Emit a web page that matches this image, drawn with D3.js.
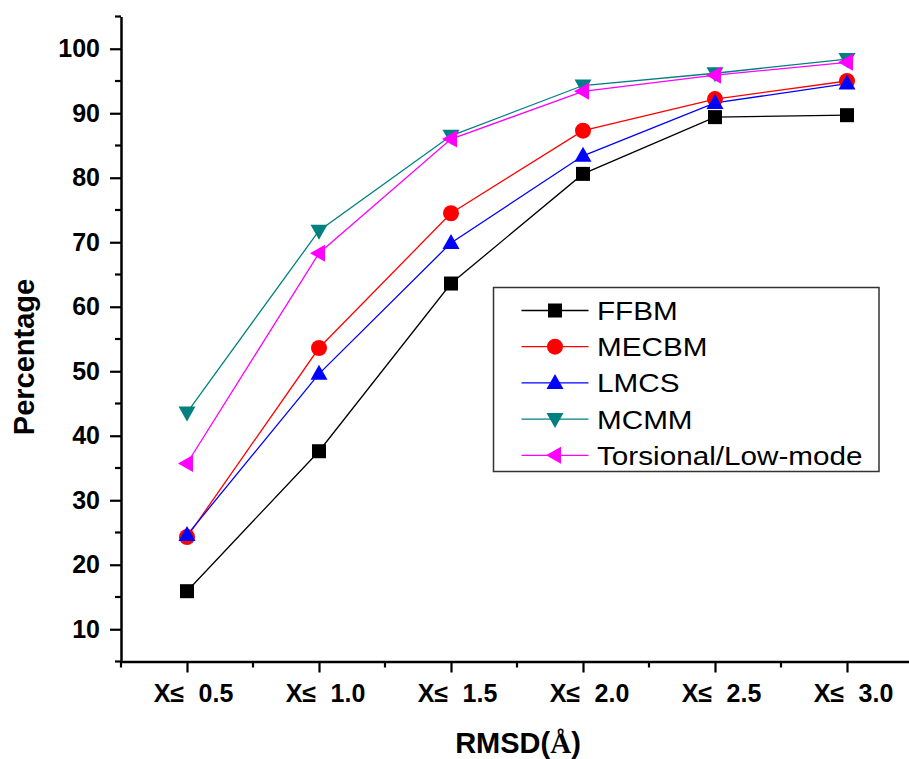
<!DOCTYPE html>
<html>
<head>
<meta charset="utf-8">
<script src="https://cdn.jsdelivr.net/npm/d3@7"></script>
<style>
  html, body { margin: 0; padding: 0; background: #fff; }
  svg { display: block; }
</style>
</head>
<body>
<svg id="chart" width="909" height="759"></svg>
<script>
// ---- data ----
const xValues = [0.5, 1.0, 1.5, 2.0, 2.5, 3.0];
const xTickLabels = ["X≤\u2002\u200a0.5", "X≤\u2002\u200a1.0", "X≤\u2002\u200a1.5", "X≤\u2002\u200a2.0", "X≤\u2002\u200a2.5", "X≤\u2002\u200a3.0"];
const seriesNames = ["FFBM", "MECBM", "LMCS", "MCMM", "Torsional/Low-mode"];
const ffbm      = [15.9, 37.6, 63.6, 80.6, 89.4, 89.7];
const mecbm     = [24.3, 53.6, 74.5, 87.3, 92.2, 95.0];
const lmcs      = [24.6, 49.6, 69.9, 83.4, 91.6, 94.6];
const mcmm      = [43.6, 71.8, 86.5, 94.3, 96.2, 98.4];
const torsional = [35.7, 68.3, 86.0, 93.4, 95.9, 97.9];
const yTicks = [10, 20, 30, 40, 50, 60, 70, 80, 90, 100];

const seriesValues = [ffbm, mecbm, lmcs, mcmm, torsional];
const colors = ["#000000", "#ff0000", "#0000ff", "#008080", "#ff00ff"];
const symbols = ["square", "circle", "triUp", "triDown", "triLeft"];

const svg = d3.select("#chart");
const x = d3.scaleLinear().domain([0.25, 3.25]).range([121, 913]);
const y = d3.scaleLinear().domain([5, 105]).range([661.5, 16.5]);

// ---- axes ----
const yMinor = d3.range(5, 106, 5).filter(v => v % 10 !== 0);
const xMinor = d3.range(0.25, 3.26, 0.5);

const yAxisG = svg.append("g").attr("transform", `translate(${x(0.25)},0)`);
yAxisG.call(d3.axisLeft(y).tickValues(yTicks).tickSize(11).tickPadding(10).tickSizeOuter(0).tickFormat(d3.format("d")));
yAxisG.selectAll("text").attr("font-family", "Liberation Sans, Arial, sans-serif").attr("font-weight", "bold").attr("font-size", 25).attr("fill", "#000");
yAxisG.selectAll("line").attr("stroke", "#000").attr("stroke-width", 2.2);
yAxisG.select(".domain").attr("stroke", "#000").attr("stroke-width", 2.5);
yAxisG.append("g").selectAll("line").data(yMinor).join("line")
  .attr("x1", -6).attr("x2", 0).attr("y1", d => y(d)).attr("y2", d => y(d))
  .attr("stroke", "#000").attr("stroke-width", 2.2);

const xAxisG = svg.append("g").attr("transform", `translate(0,${y(5)})`);
xAxisG.call(d3.axisBottom(x).tickValues(xValues).tickSize(11).tickPadding(12).tickSizeOuter(0)
  .tickFormat((d, i) => xTickLabels[i]));
xAxisG.selectAll("text").attr("font-family", "Liberation Sans, Arial, sans-serif").attr("font-weight", "bold").attr("font-size", 25).attr("fill", "#000").attr("dx", 6);
xAxisG.selectAll("line").attr("stroke", "#000").attr("stroke-width", 2.2);
xAxisG.select(".domain").attr("stroke", "#000").attr("stroke-width", 2.5);
xAxisG.append("g").selectAll("line").data(xMinor).join("line")
  .attr("x1", d => x(d)).attr("x2", d => x(d)).attr("y1", 0).attr("y2", 6)
  .attr("stroke", "#000").attr("stroke-width", 2.2);

// ---- axis titles ----
svg.append("text")
  .attr("transform", "translate(33.5,357) rotate(-90)")
  .attr("text-anchor", "middle")
  .attr("font-family", "Liberation Sans, Arial, sans-serif")
  .attr("font-weight", "bold").attr("font-size", 29)
  .text("Percentage");

const xt = svg.append("text")
  .attr("x", 518).attr("y", 753)
  .attr("text-anchor", "middle")
  .attr("font-family", "Liberation Sans, Arial, sans-serif")
  .attr("font-weight", "bold").attr("font-size", 29);
xt.append("tspan").text("RMSD(");
xt.append("tspan").attr("font-family", "Liberation Serif, Times New Roman, serif").text("Å");
xt.append("tspan").text(")");

// ---- markers ----
function drawMarker(g, type, cx, cy, color) {
  if (type === "square") {
    g.append("rect").attr("x", cx - 7).attr("y", cy - 7).attr("width", 14).attr("height", 14).attr("fill", color);
  } else if (type === "circle") {
    g.append("circle").attr("cx", cx).attr("cy", cy).attr("r", 8).attr("fill", color);
  } else if (type === "triUp") {
    g.append("path").attr("d", `M${cx},${cy - 9}L${cx + 8.5},${cy + 6}L${cx - 8.5},${cy + 6}Z`).attr("fill", color);
  } else if (type === "triDown") {
    g.append("path").attr("d", `M${cx},${cy + 9}L${cx + 8.5},${cy - 6}L${cx - 8.5},${cy - 6}Z`).attr("fill", color);
  } else if (type === "triLeft") {
    g.append("path").attr("d", `M${cx - 9},${cy}L${cx + 6},${cy - 8.5}L${cx + 6},${cy + 8.5}Z`).attr("fill", color);
  }
}

const line = d3.line().x((d, i) => x(xValues[i])).y(d => y(d));
seriesValues.forEach((vals, si) => {
  svg.append("path").attr("d", line(vals)).attr("fill", "none").attr("stroke", colors[si]).attr("stroke-width", 1.3);
});
seriesValues.forEach((vals, si) => {
  const g = svg.append("g");
  vals.forEach((v, i) => drawMarker(g, symbols[si], x(xValues[i]), y(v), colors[si]));
});

// ---- legend ----
const leg = svg.append("g");
leg.append("rect").attr("x", 493.5).attr("y", 287.5).attr("width", 385.5).attr("height", 184)
  .attr("fill", "#fff").attr("stroke", "#333").attr("stroke-width", 1.5);
seriesNames.forEach((name, i) => {
  const cy = 310.5 + i * 36.2;
  leg.append("line").attr("x1", 521.5).attr("x2", 588.5).attr("y1", cy).attr("y2", cy)
    .attr("stroke", colors[i]).attr("stroke-width", 1.3);
  drawMarker(leg, symbols[i], 555, cy, colors[i]);
  leg.append("text")
    .attr("transform", `translate(597,${cy}) scale(1.12,1)`)
    .attr("dy", "0.36em")
    .attr("font-family", "Liberation Sans, Arial, sans-serif")
    .attr("font-size", 26.5)
    .text(name);
});
</script>
</body>
</html>
